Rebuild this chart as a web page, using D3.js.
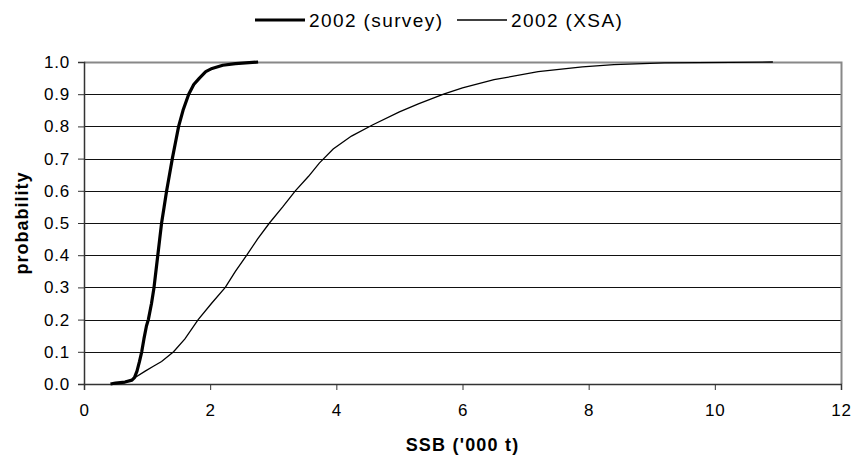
<!DOCTYPE html>
<html>
<head>
<meta charset="utf-8">
<script src="https://cdn.jsdelivr.net/npm/d3@7"></script>
<style>
  body { margin: 0; background: #fff; }
  svg { display: block; font-family: "Liberation Sans", Arial, sans-serif; }
</style>
</head>
<body>
<div id="chart"></div>
<script>
// cumulative probability curves: SSB ('000 t) vs probability
const surveySSB  = [0.42, 0.50, 0.65, 0.76, 0.80, 0.84, 0.88, 0.915, 0.95, 0.99, 1.02, 1.07, 1.11, 1.14, 1.17, 1.20, 1.23, 1.27, 1.31, 1.355, 1.40, 1.45, 1.50, 1.57, 1.66, 1.74, 1.83, 1.93, 2.03, 2.20, 2.40, 2.76];
const surveyProb = [0, 0.003, 0.006, 0.012, 0.02, 0.04, 0.07, 0.10, 0.14, 0.18, 0.20, 0.25, 0.30, 0.35, 0.40, 0.45, 0.50, 0.55, 0.60, 0.65, 0.70, 0.75, 0.80, 0.85, 0.90, 0.93, 0.95, 0.97, 0.98, 0.99, 0.995, 1.0];

const xsaSSB  = [0.45, 0.60, 0.75, 0.81, 0.97, 1.10, 1.23, 1.42, 1.60, 1.81, 2.02, 2.24, 2.40, 2.58, 2.75, 2.94, 3.15, 3.35, 3.56, 3.73, 3.95, 4.24, 4.58, 5.00, 5.30, 5.70, 6.00, 6.50, 7.20, 7.90, 8.40, 9.20, 10.92];
const xsaProb = [0, 0.005, 0.012, 0.02, 0.04, 0.055, 0.07, 0.10, 0.14, 0.20, 0.25, 0.30, 0.35, 0.40, 0.45, 0.50, 0.55, 0.60, 0.645, 0.686, 0.73, 0.77, 0.805, 0.845, 0.87, 0.90, 0.92, 0.945, 0.97, 0.985, 0.992, 0.997, 1.0];

const seriesNames = ['2002 (survey)', '2002 (XSA)'];
const xTicks = [0, 2, 4, 6, 8, 10, 12];
const yTicks = [0, 0.1, 0.2, 0.3, 0.4, 0.5, 0.6, 0.7, 0.8, 0.9, 1.0];

const W = 855, H = 465;
const margin = { top: 62, right: 14, bottom: 81, left: 84 };
const width = W - margin.left - margin.right;
const height = H - margin.top - margin.bottom;

const svg = d3.select('#chart').append('svg')
    .attr('width', W)
    .attr('height', H);

const g = svg.append('g')
    .attr('transform', `translate(${margin.left},${margin.top})`);

const x = d3.scaleLinear().domain([0, 12]).range([0, width]);
const y = d3.scaleLinear().domain([0, 1]).range([height, 0]);

// gridlines
g.append('g')
    .selectAll('line')
    .data(yTicks.slice(1, -1))
    .enter()
    .append('line')
    .attr('x1', 0)
    .attr('x2', width)
    .attr('y1', d => Math.round(y(d)) + 0.5)
    .attr('y2', d => Math.round(y(d)) + 0.5)
    .attr('stroke', '#111')
    .attr('stroke-width', 1);

// plot border (top and right, grey)
g.append('path')
    .attr('d', `M0,${Math.round(y(1)) + 0.5}H${Math.round(width) + 0.5}V${height}`)
    .attr('fill', 'none')
    .attr('stroke', '#888')
    .attr('stroke-width', 2);

// axes
const xAxis = d3.axisBottom(x).tickValues(xTicks).tickSize(6).tickPadding(14).tickFormat(d3.format('d'));
const yAxis = d3.axisLeft(y).tickValues(yTicks).tickSize(6).tickPadding(8).tickFormat(d3.format('.1f'));

const gx = g.append('g')
    .attr('transform', `translate(0,${height})`)
    .call(xAxis);
const gy = g.append('g').call(yAxis);

[gx, gy].forEach(a => {
    a.select('.domain').attr('stroke', '#333').attr('stroke-width', 1.5);
    a.selectAll('.tick line').attr('stroke', '#333');
    a.selectAll('text')
        .style('font-family', '"Liberation Sans", Arial, sans-serif')
        .style('font-size', '17px')
        .style('letter-spacing', '0.8px')
        .attr('fill', '#000');
});

// curves
const line = d3.line()
    .x(d => x(d[0]))
    .y(d => y(d[1]));

const xsaPts = xsaSSB.map((v, i) => [v, xsaProb[i]]);
const surveyPts = surveySSB.map((v, i) => [v, surveyProb[i]]);

g.append('path')
    .datum(xsaPts)
    .attr('d', line)
    .attr('fill', 'none')
    .attr('stroke', '#000')
    .attr('stroke-width', 1.3);

g.append('path')
    .datum(surveyPts)
    .attr('d', line)
    .attr('fill', 'none')
    .attr('stroke', '#000')
    .attr('stroke-width', 3.2)
    .attr('stroke-linejoin', 'round');

// axis titles
svg.append('text')
    .attr('x', margin.left + width / 2)
    .attr('y', 451)
    .attr('text-anchor', 'middle')
    .style('font-weight', 'bold')
    .style('font-size', '18px')
    .style('letter-spacing', '1.2px')
    .text("SSB ('000 t)");

svg.append('text')
    .attr('transform', `translate(28,${margin.top + height / 2}) rotate(-90)`)
    .attr('text-anchor', 'middle')
    .style('font-weight', 'bold')
    .style('font-size', '18px')
    .style('letter-spacing', '1px')
    .text('probability');

// legend
const legend = svg.append('g').attr('transform', 'translate(255,20)');
const legendItems = [
    { name: seriesNames[0], w: 3.2, x0: 0 },
    { name: seriesNames[1], w: 1.3, x0: 202 }
];
legendItems.forEach(it => {
    legend.append('line')
        .attr('x1', it.x0).attr('x2', it.x0 + 50)
        .attr('y1', 0).attr('y2', 0)
        .attr('stroke', '#000')
        .attr('stroke-width', it.w);
    legend.append('text')
        .attr('x', it.x0 + 54)
        .attr('y', 7)
        .style('font-size', '19px')
        .style('letter-spacing', '1.4px')
        .text(it.name);
});
</script>
</body>
</html>
